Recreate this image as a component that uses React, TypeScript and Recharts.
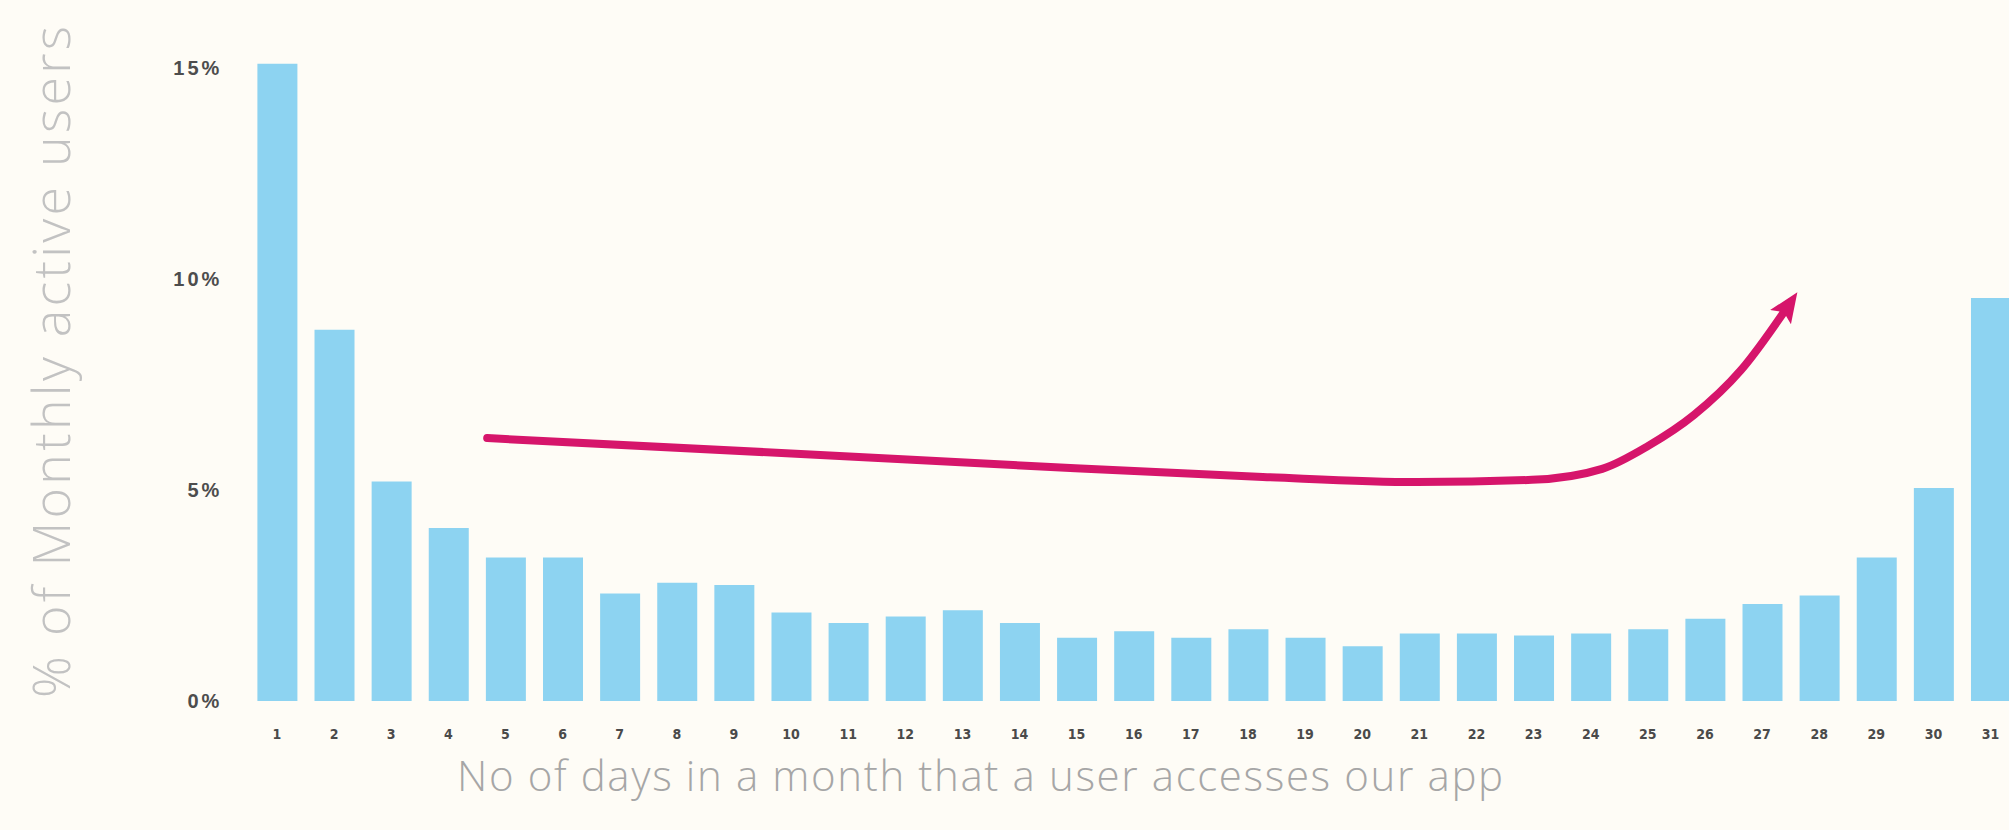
import React from 'react';
import { ComposedChart, Bar, Line, XAxis, YAxis } from 'recharts';

// Days in a month a user accessed the app (categories)
const days: string[] = [
  '1', '2', '3', '4', '5', '6', '7', '8', '9', '10', '11', '12', '13', '14', '15', '16',
  '17', '18', '19', '20', '21', '22', '23', '24', '25', '26', '27', '28', '29', '30', '31',
];

// % of monthly active users for each day-count
const shares: number[] = [
  15.1, 8.8, 5.2, 4.1, 3.4, 3.4, 2.55, 2.8, 2.75, 2.1, 1.85, 2.0, 2.15, 1.85, 1.5, 1.65,
  1.5, 1.7, 1.5, 1.3, 1.6, 1.6, 1.55, 1.6, 1.7, 1.95, 2.3, 2.5, 3.4, 5.05, 9.55,
];

const yTicks: number[] = [0, 5, 10, 15];

// Hand-drawn trend arrow, expressed in data units (day position, %)
const arrowDays: number[] = [4.68, 10.51, 14.2, 18.26, 20.96, 22.97, 24.2, 25.0, 25.81, 26.63, 27.5];
const arrowPcts: number[] = [6.23, 5.83, 5.57, 5.31, 5.19, 5.24, 5.5, 6.04, 6.78, 7.84, 9.45];

const barData = days.map((d, i) => ({ day: d, pct: shares[i] }));
const arrowData = arrowDays.map((x, i) => ({ ax: x, ay: arrowPcts[i] }));

const BG = '#fefcf6';
const BAR = '#8dd3f1';
const ARROW = '#d6156b';

export default function App() {
  return (
    <div
      style={{
        position: 'fixed',
        left: 0,
        top: 0,
        width: 2009,
        height: 830,
        overflow: 'hidden',
        background: BG,
      }}
    >
      <svg width={0} height={0} style={{ position: 'absolute' }}>
        <defs>
          <marker
            id="arrowHead"
            viewBox="0 0 10 10"
            refX={6}
            refY={5}
            markerUnits="userSpaceOnUse"
            markerWidth={30}
            markerHeight={30}
            orient="auto"
          >
            <path d="M0,0.8 L10,5 L0,9.2 L2,5 z" fill={ARROW} />
          </marker>
        </defs>
      </svg>
      <div style={{ position: 'absolute', left: 0, top: 0 }}>
        <ComposedChart
          width={2030}
          height={830}
          data={barData}
          margin={{ top: 25.8, right: 10.9, bottom: 89, left: 128.4 }}
        >
          <XAxis
            dataKey="day"
            type="category"
            axisLine={false}
            tickLine={false}
            tickSize={0}
            tickMargin={28}
            height={40}
            interval={0}
            tick={{ fill: '#4a4a4a', fontSize: 14, fontWeight: 700, fontFamily: '"Liberation Sans Narrow", "DejaVu Sans Condensed", "Liberation Sans", sans-serif' }}
          />
          <XAxis
            xAxisId="arrow"
            dataKey="ax"
            type="number"
            domain={[0.5, 31.5]}
            allowDataOverflow
            hide
          />
          <YAxis
            type="number"
            domain={[0, 16]}
            ticks={yTicks}
            width={120}
            axisLine={false}
            tickLine={false}
            tickSize={0}
            tickMargin={26}
            tickFormatter={(v: number) => `${v}%`}
            tick={{ fill: '#4d4d4d', fontSize: 20, fontWeight: 700, letterSpacing: 3, fontFamily: '"Liberation Sans", Arial, sans-serif' }}
          />
          <Bar dataKey="pct" fill={BAR} barSize={40} isAnimationActive={false} />
          <Line
            data={arrowData}
            xAxisId="arrow"
            dataKey="ay"
            type="monotone"
            stroke={ARROW}
            strokeWidth={8}
            strokeLinecap="round"
            dot={false}
            activeDot={false}
            markerEnd="url(#arrowHead)"
            isAnimationActive={false}
          />
        </ComposedChart>
      </div>
      <svg width={2009} height={830} style={{ position: 'absolute', left: 0, top: 0, pointerEvents: 'none' }}>
        <text
          x={0}
          y={0}
          transform="translate(70, 362) rotate(-90)"
          textAnchor="middle"
          fill="#c2c2c2"
          fontSize={52}
          fontWeight={300}
          fontFamily='"Open Sans", Lato, sans-serif'
          textLength={672}
          lengthAdjust="spacing"
        >
          % of Monthly active users
        </text>
        <text
          x={980}
          y={791}
          textAnchor="middle"
          fill="#a6a6a6"
          fontSize={42}
          fontWeight={300}
          fontFamily='"Open Sans", Lato, sans-serif'
          textLength={1046}
          lengthAdjust="spacing"
        >
          No of days in a month that a user accesses our app
        </text>
      </svg>
    </div>
  );
}
